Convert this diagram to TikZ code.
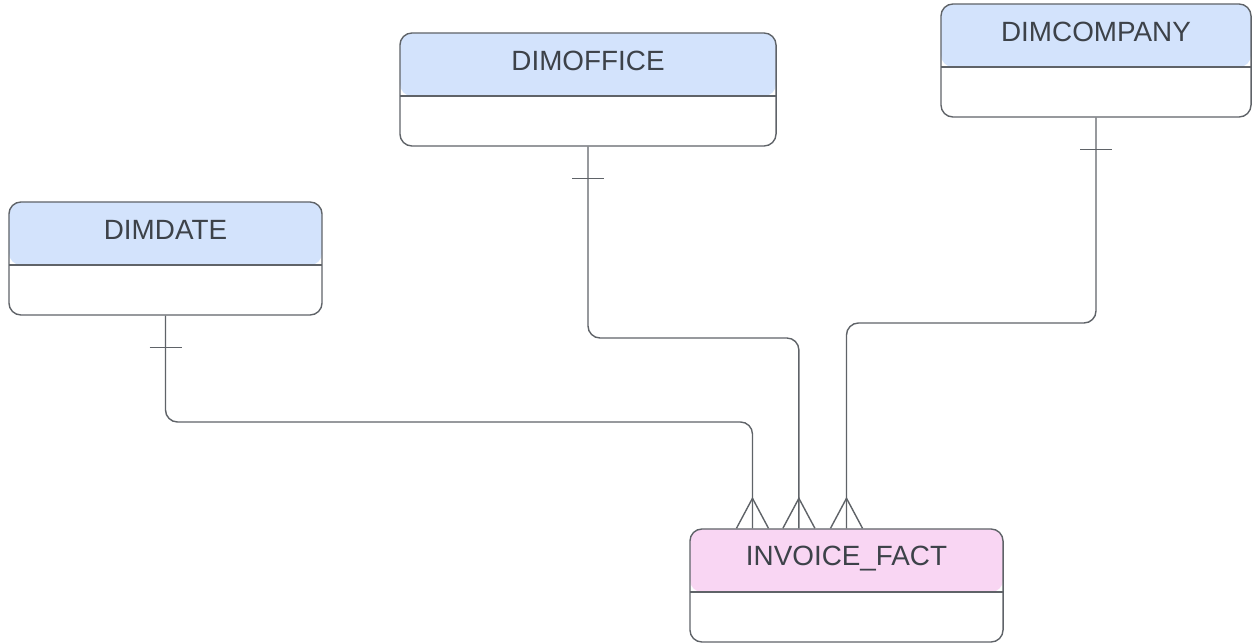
\documentclass[tikz,border=0pt]{standalone}
\usepackage{fontspec}
\setmainfont{Liberation Sans}
\usepackage{tikz}

\definecolor{linegray}{RGB}{95,99,104}
\definecolor{textgray}{RGB}{61,66,73}
\definecolor{dimblue}{RGB}{211,227,252}
\definecolor{factpink}{RGB}{249,214,243}

\tikzset{
  entity/.style={draw=linegray, line width=1pt, rounded corners=0.3cm,
    minimum height=2.825cm, inner sep=0pt,
    path picture={
      \fill[#1] (path picture bounding box.north west) rectangle ([yshift=-1.575cm]path picture bounding box.north east);
      \draw[linegray, line width=1pt] ([yshift=-1.575cm]path picture bounding box.north west) -- ([yshift=-1.575cm]path picture bounding box.north east);
    }},
  title/.style={anchor=base, text=textgray, inner sep=0pt,
    font=\fontsize{19.8}{24}\selectfont},
  conn/.style={draw=linegray, line width=1pt, rounded corners=0.3cm},
  tick/.style={draw=linegray, line width=1pt}
}

\begin{document}
\begin{tikzpicture}[x=0.025cm, y=-0.025cm]
    \useasboundingbox (0,0) rectangle (1252,643);

    % tables
    \node[entity=dimblue, minimum width=7.825cm] (date) at (165.5,258.5) {};
    \node[entity=dimblue, minimum width=9.4cm] (office) at (588,89.5) {};
    \node[entity=dimblue, minimum width=7.75cm] (company) at (1096,60.5) {};
    \node[entity=factpink, minimum width=7.825cm] (fact) at (846.5,585.5) {};

    \node[title] (dateT) at ([yshift=-0.95cm]date.north) {DIMDATE};
    \node[title] (officeT) at ([yshift=-0.95cm]office.north) {DIMOFFICE};
    \node[title] (companyT) at ([yshift=-0.95cm]company.north) {DIMCOMPANY};
    \node[title] (factT) at ([yshift=-0.94cm]fact.north) {INVOICE\_FACT};

    % ends on the fact table
    \coordinate (f1) at ([xshift=-2.35cm]fact.north);
    \coordinate (f2) at ([xshift=-1.19cm]fact.north);
    \coordinate (f3) at (fact.north);

    % connectors
    \draw[conn] (date.south) -- (date.south |- 0,422) -- (f1 |- 0,422) -- (f1);
    \draw[conn] (office.south) -- (office.south |- 0,338) -- (f2 |- 0,338) -- (f2);
    \draw[conn] (company.south) -- (company.south |- 0,323) -- (f3 |- 0,323) -- (f3);

    % one side
    \draw[tick] (date.south) ++(-16,32) -- ++(32,0);
    \draw[tick] (office.south) ++(-16,32) -- ++(32,0);
    \draw[tick] (company.south) ++(-16,32) -- ++(32,0);

    % many side
    \draw[tick] (f1) ++(-16,0) -- ++(16,-30) -- ++(16,30);
    \draw[tick] (f2) ++(-16,0) -- ++(16,-30) -- ++(16,30);
    \draw[tick] (f3) ++(-16,0) -- ++(16,-30) -- ++(16,30);
\end{tikzpicture}
\end{document}
